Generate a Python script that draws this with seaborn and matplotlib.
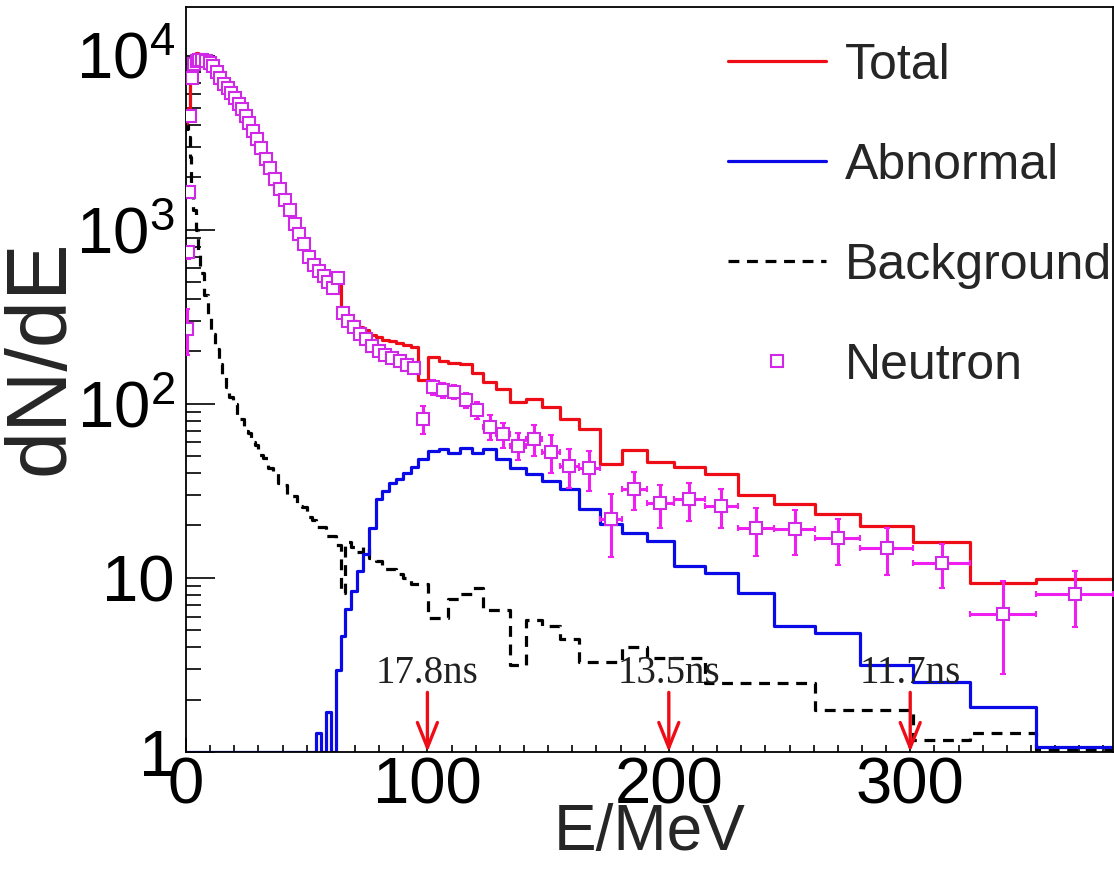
import numpy as np
import pandas as pd
import matplotlib
matplotlib.use("Agg")
import matplotlib.pyplot as plt
from matplotlib.lines import Line2D
from matplotlib.ticker import FixedLocator, FixedFormatter, LogLocator, MultipleLocator, NullFormatter
import seaborn as sns

# Energy bin edges (MeV); bins are equal steps in time of flight, so they widen with energy
edges = [0, 0.5, 1, 1.5, 2, 3, 4, 5, 6, 7.5, 9, 10.5, 12, 13.5, 15, 16.5, 18, 19.5,
         21, 22.5, 24, 25.5, 27, 28.5, 30, 32, 34, 36, 38, 40, 42, 44, 46, 48, 50,
         52, 54, 56, 58, 60, 62, 64, 66, 68.5, 71, 73.5, 76, 78.5, 81, 84, 87, 90,
         93, 96.3, 100.4, 104.6, 108.7, 113.3, 118.3, 123.2, 128.6, 134.4, 140.7,
         147.3, 154.8, 162.7, 171.4, 180.5, 190.9, 202.1, 214.9, 228.6, 243.6,
         260.6, 279.3, 301.2, 324.9, 352.3, 384]

total = [4100, 4700, 5000, 7100, 9200, 10200, 10300, 10200, 9950, 9700, 9400, 8950,
         8200, 7570, 7050, 6620, 6200, 5800, 5390, 4980, 4570, 4170, 3760, 3360,
         3000, 2600, 2290, 1990, 1760, 1510, 1320, 1110, 980, 855, 725, 650, 600, 560,
         520, 477, 550, 343,
         318, 298, 275, 264, 247, 241, 233, 228, 222, 218, 213,
         137, 186, 177, 172, 169, 150, 133, 122, 102, 107, 96, 82, 72, 45, 54.6, 46.6,
         43.6, 39.3, 29.8, 26.5, 23.2, 19.8, 16.1, 9.36, 9.87]

abnormal = [0] * 36 + [
    1.28, 0, 1.69, 0, 2.94, 4.66, 6.65, 8.4, 11, 13.7, 19.3, 28.3, 31.5, 35, 37, 40,
    43.6, 48.4, 53.2, 54.8, 51.9, 55.5, 51.9, 54.8, 48.4, 42.5, 39.3, 35.8, 32.2, 25,
    20.4, 18.1, 16.3, 11.7, 10.7, 8.2, 5.3, 4.85, 3.14, 2.51, 1.81, 1.07]

background = [3800, 4000, 3400, 2600, 1800, 1300, 1000, 760, 560, 420, 320, 250,
              205, 170, 145, 125, 110, 100, 86, 82, 70, 68, 60, 58,
              51, 49, 43, 41, 35, 34, 30, 29.5, 26, 25.5, 22.5, 21.5, 19.5, 19.5, 17.5,
              17.5, 15.5, 8.2,
              16, 15, 14, 15, 13, 12.5, 11.3, 11.3, 10.5, 10, 9.2,
              9.2, 5.9, 5.9, 7.6, 8.1, 8.8, 6.5, 6.5, 3.14, 5.7, 5.3, 4.48, 3.27, 3.27,
              4.0, 3.45, 3.45, 2.48, 2.48, 2.48, 1.74, 1.74, 1.17, 1.28, 1.03]

neutron = [270, 740, 1640, 4500, 7400, 8900, 9300, 9400, 9400, 9300, 9100, 8700,
           8000, 7400, 6900, 6500, 6100, 5700, 5300, 4900, 4500, 4100, 3700, 3300,
           2950, 2550, 2250, 1950, 1720, 1480, 1290, 1080, 950, 830, 700, 630, 580,
           540, 500, 460, 530, 330,
           300, 275, 250, 235, 215, 200, 190, 182, 175, 168, 160,
           82, 125, 120, 117, 105, 92, 74, 67, 57.5, 63, 53, 44, 42.5, 21.7, 32.6,
           26.8, 28.3, 25.8, 19.3, 19.0, 16.9, 14.9, 12.2, 6.2, 8.1]

neutron_err = [80, 60, 80, 150, 200, 220, 230, 230, 220, 210, 200, 190,
               180, 170, 160, 150, 140, 130, 120, 115, 110, 100, 95, 90,
               80, 70, 62, 55, 50, 45, 40, 35, 32, 29, 26, 24, 22, 21, 20, 19, 22, 16,
               15, 14, 13, 12, 12, 11, 11, 10, 10, 10, 10,
               15, 12, 12, 11, 10, 10, 12, 11, 10, 13, 13, 11, 11, 8.5, 8, 7.5, 7,
               6.5, 6, 5.5, 5, 4.5, 3.5, 3.4, 2.9]

arrow_energies = [100, 200, 300]
arrow_labels = ["17.8ns", "13.5ns", "11.7ns"]

x_ticks = [0, 100, 200, 300]
y_ticks = [1, 10, 100, 1000, 10000]
y_tick_labels = ["1", "10", r"$\mathregular{10^{2}}$", r"$\mathregular{10^{3}}$",
                 r"$\mathregular{10^{4}}$"]

RED = "#ee0d17"
BLUE = "#0a0ae6"
MAGENTA = "#f01ef0"
MARKER_EDGE = "#d028e6"
DASH = (0, (3.4, 2.4))
X_MAX = 384
Y_MIN, Y_MAX = 1.0, 1.9e4

sns.set_theme(style="ticks")
plt.rcParams["font.family"] = ["Liberation Sans", "DejaVu Sans"]
plt.rcParams["mathtext.fontset"] = "custom"
plt.rcParams["mathtext.rm"] = "Liberation Sans"

W, H = 1114, 884
fig = plt.figure(figsize=(W / 100, H / 100), dpi=100)
ax = fig.add_axes([186 / W, 1 - 752 / H, (1113 - 186) / W, (752 - 7) / H])
ax.set_yscale("log")

edge_arr = np.asarray(edges, dtype=float)
centers = 0.5 * (edge_arr[:-1] + edge_arr[1:])
half_width = 0.5 * np.diff(edge_arr)

hist = pd.DataFrame({
    "E": centers,
    "Total": total,
    "Abnormal": abnormal,
    "Background": background,
})

# Empty bins sit on the lower frame, as in a ROOT log plot
styles = [("Background", "black", DASH), ("Abnormal", BLUE, "-"), ("Total", RED, "-")]
for col, color, ls in styles:
    sns.histplot(data=hist, x="E", weights=np.clip(hist[col].to_numpy(), Y_MIN, None),
                 bins=edges, element="step", fill=False, color=color,
                 linewidth=2.3, linestyle=ls, ax=ax, zorder=2)

ax.errorbar(centers, neutron, yerr=neutron_err, xerr=half_width, fmt="s",
            ms=9.2, mfc="white", mec=MARKER_EDGE, mew=1.5, ecolor=MAGENTA,
            elinewidth=2.2, capsize=2.5, capthick=2.2, zorder=3)

# Time-of-flight markers
for e, lab in zip(arrow_energies, arrow_labels):
    ax.annotate("", xy=(e, Y_MIN), xytext=(e, 2.2),
                arrowprops=dict(arrowstyle="->,head_length=0.9,head_width=0.36",
                                color=RED, lw=2.4, mutation_scale=20,
                                shrinkA=0, shrinkB=0), zorder=4)
    ax.text(e, 2.5, lab, ha="center", va="baseline", fontsize=28,
            family=["Liberation Serif"], color="#202020", zorder=4)

ax.set_xlim(0, X_MAX)
ax.set_ylim(Y_MIN, Y_MAX)
ax.set_xlabel("")
ax.set_ylabel("")

ax.xaxis.set_major_locator(FixedLocator(x_ticks))
ax.xaxis.set_minor_locator(MultipleLocator(10))
ax.yaxis.set_major_locator(FixedLocator(y_ticks))
ax.yaxis.set_major_formatter(FixedFormatter(y_tick_labels))
ax.yaxis.set_minor_locator(LogLocator(base=10, subs=np.arange(2, 10)))
ax.yaxis.set_minor_formatter(NullFormatter())

ax.tick_params(axis="both", which="both", direction="in", top=False, right=False,
               color="black", width=1.2, labelsize=47, labelcolor="black")
ax.tick_params(axis="x", which="major", length=10, pad=3)
ax.tick_params(axis="x", which="minor", length=5)
ax.tick_params(axis="y", which="major", length=21, pad=8)
ax.tick_params(axis="y", which="minor", length=11)
for sp in ax.spines.values():
    sp.set_color("black")
    sp.set_linewidth(1.3)
    sp.set_visible(True)

fig.text(650 / W, 1 - 833 / H, "E/MeV", ha="center", va="center", fontsize=46)
fig.text(42 / W, 1 - 357 / H, "dN/dE", ha="center", va="center", rotation=90,
         fontsize=61)

handles = [
    Line2D([], [], color=RED, lw=2.3),
    Line2D([], [], color=BLUE, lw=2.3),
    Line2D([], [], color="black", lw=2.3, linestyle=DASH),
    Line2D([], [], ls="none", marker="s", ms=9.2, mfc="white", mec=MARKER_EDGE, mew=1.5),
]
labels = ["Total", "Abnormal", "Background", "Neutron"]
ax.legend(handles, labels, loc="upper left", bbox_to_anchor=(0.585, 0.952),
          frameon=False, fontsize=36, handlelength=1.96, handletextpad=0.38,
          labelspacing=1.08, borderaxespad=0, borderpad=0)

fig.savefig("out.png", dpi=100, facecolor="white")
